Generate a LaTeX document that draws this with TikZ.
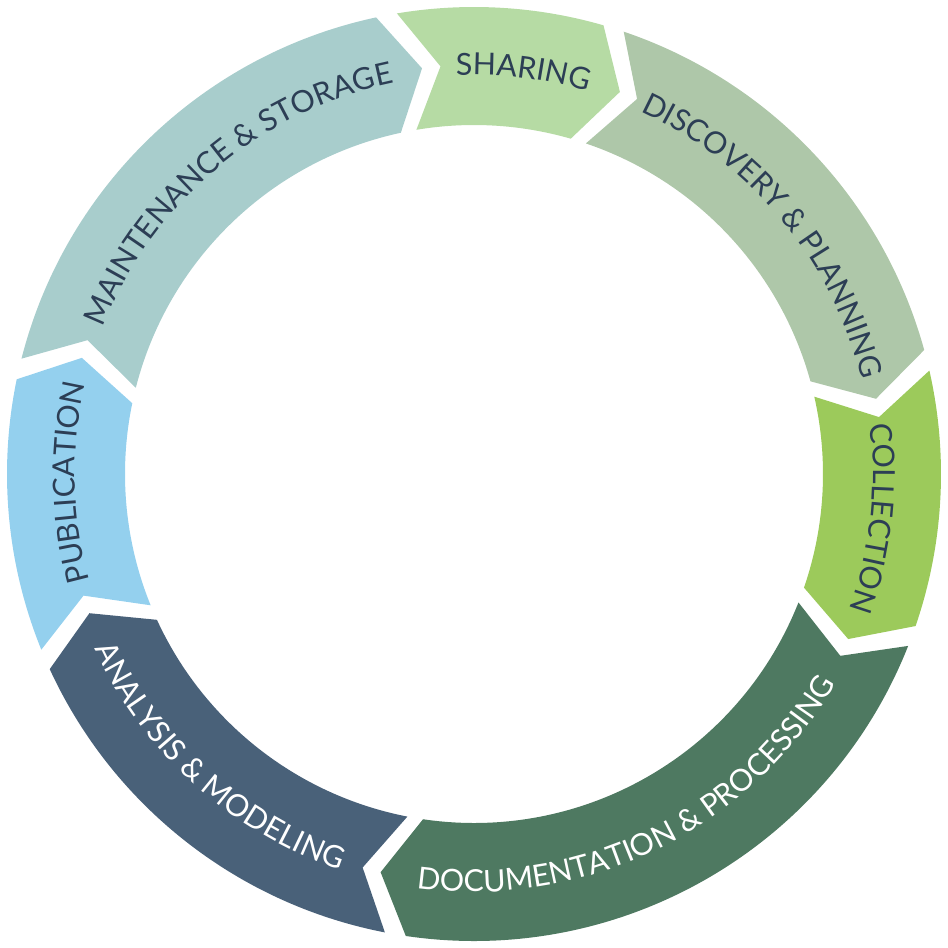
\documentclass[tikz,border=0pt]{standalone}
\usepackage{fontspec}
\setmainfont{Lato}
\usetikzlibrary{decorations.text}

\definecolor{sharing}{HTML}{B6DBA4}
\definecolor{discovery}{HTML}{AEC7A9}
\definecolor{collection}{HTML}{9CCA5B}
\definecolor{documentation}{HTML}{4E7961}
\definecolor{analysis}{HTML}{496179}
\definecolor{publication}{HTML}{94D0EE}
\definecolor{maintenance}{HTML}{A8CDCC}
\definecolor{navy}{HTML}{2C3E55}

\newcommand{\labfont}{\fontsize{30.5}{36}\selectfont}

\tikzset{
  cwlabel/.style={decorate, decoration={text along path, text align=center, text color=#1}},
  cwlabel/.default=navy
}

\begin{document}
\begin{tikzpicture}
    \useasboundingbox (-474bp,-474bp) rectangle (474bp,474bp);

    % Ring segments: start angle / end angle / colour (clockwise)
    \foreach \s/\e/\col in {100.8/72.6/sharing, 72.6/14.1/discovery, 14.1/-20.3/collection,
                            -20.3/-99.7/documentation, -99.7/-156.6/analysis,
                            203.4/167/publication, 167/100.8/maintenance} {
      \fill[\col] ({\s-1.3}:467bp) -- ({\s-6.1}:409bp) -- ({\s-1.3}:349bp)
        arc[start angle=\s-1.3, end angle=\e+1.3, radius=349bp]
        -- ({\e-3.5}:409bp) -- ({\e+1.3}:467bp)
        arc[start angle=\e+1.3, end angle=\s-1.3, radius=467bp] -- cycle;
    }

    % Labels, clockwise (tops outward)
    \path[cwlabel, decoration={text={|\labfont|SHARING}}]
      (113:399bp) arc[start angle=113, end angle=53, radius=399bp];
    \path[cwlabel, decoration={text={|\labfont|DISCOVERY {\&} PLANNING}}]
      (79.5:399bp) arc[start angle=79.5, end angle=-0.5, radius=399bp];
    \path[cwlabel, decoration={text={|\labfont|COLLECTION}}]
      (23.7:399bp) arc[start angle=23.7, end angle=-36.3, radius=399bp];
    \path[cwlabel, decoration={text={|\labfont|PUBLICATION}}]
      (211.2:399bp) arc[start angle=211.2, end angle=151.2, radius=399bp];
    \path[cwlabel, decoration={text={|\labfont|MAINTENANCE {\&} STORAGE}}]
      (172:399bp) arc[start angle=172, end angle=88, radius=399bp];

    % Labels, counter-clockwise (tops inward)
    \path[cwlabel=white, decoration={text={|\labfont|DOCUMENTATION {\&} PROCESSING}}]
      (-112:418bp) arc[start angle=-112, end angle=-16, radius=418bp];
    \path[cwlabel=white, decoration={text={|\labfont|ANALYSIS {\&} MODELING}}]
      (-172:418bp) arc[start angle=-172, end angle=-92, radius=418bp];
  \end{tikzpicture}
\end{document}
